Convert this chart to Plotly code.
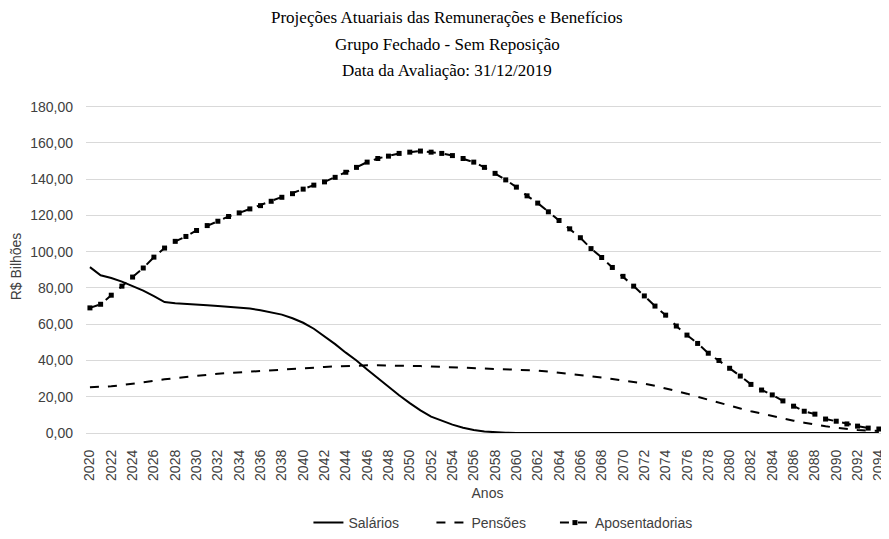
import plotly.graph_objects as go

anos = list(range(2020, 2095))

salarios = [91.5, 87.0, 85.5, 83.5, 81.0, 78.5, 75.5, 72.2, 71.5, 71.0,
            70.7, 70.4, 70.0, 69.5, 69.2, 68.7, 67.7, 66.7, 65.3, 63.3,
            60.8, 57.5, 53.5, 49.0, 44.3, 40.0, 35.0, 30.2, 25.5, 20.8,
            16.5, 12.5, 9.0, 6.6, 4.6, 2.9, 1.6, 0.8, 0.3, 0.1,
            0.05, 0.02, 0.01, 0, 0, 0, 0, 0, 0, 0,
            0, 0, 0, 0, 0, 0, 0, 0, 0, 0,
            0, 0, 0, 0, 0, 0, 0, 0, 0, 0,
            0, 0, 0, 0, 0]

pensoes = [25.2, 25.4, 25.8, 26.4, 27.3, 28.1, 28.9, 29.6, 30.3, 31.0,
           31.6, 32.2, 32.7, 33.1, 33.5, 33.8, 34.2, 34.6, 35.0, 35.4,
           35.8, 36.1, 36.4, 36.7, 37.0, 37.2, 37.3, 37.3, 37.3, 37.2,
           37.0, 36.9, 36.7, 36.5, 36.3, 36.1, 36.0, 35.8, 35.5, 35.3,
           35.0, 34.7, 34.4, 33.9, 33.3, 32.7, 32.0, 31.3, 30.6, 29.8,
           29.0, 28.1, 27.2, 26.0, 24.7, 23.3, 21.7, 20.0, 18.3, 16.7,
           15.0, 13.5, 12.0, 10.6, 9.3, 8.0, 6.8, 5.7, 4.6, 3.7,
           2.9, 2.2, 1.7, 1.3, 1.1]

aposentadorias = [69.0, 71.0, 76.0, 81.0, 86.0, 91.0, 97.0, 102.0, 105.7, 108.4,
                  111.7, 114.4, 116.8, 119.4, 121.4, 123.6, 125.4, 127.8, 130.0, 132.0,
                  134.5, 136.7, 138.5, 141.0, 143.8, 146.5, 149.4, 151.4, 152.7, 154.2,
                  154.9, 155.5, 154.9, 154.2, 153.0, 151.4, 149.4, 146.5, 143.2, 139.6,
                  135.6, 130.8, 126.8, 122.0, 117.2, 112.6, 107.7, 101.7, 96.8, 91.3,
                  86.4, 81.0, 75.6, 70.0, 65.0, 59.0, 54.0, 49.4, 44.0, 40.0,
                  35.7, 31.4, 26.8, 23.7, 21.0, 17.7, 14.8, 12.0, 10.4, 7.7,
                  6.5, 5.0, 3.8, 2.7, 2.2]

titulos = ["Projeções Atuariais das Remunerações e Benefícios",
           "Grupo Fechado - Sem Reposição",
           "Data da Avaliação: 31/12/2019"]

fig = go.Figure()

fig.add_trace(go.Scatter(
    x=anos, y=salarios, mode="lines", name="Salários",
    line=dict(color="black", width=2)
))
fig.add_trace(go.Scatter(
    x=anos, y=pensoes, mode="lines", name="Pensões",
    line=dict(color="black", width=2, dash="dash")
))
fig.add_trace(go.Scatter(
    x=anos, y=aposentadorias, mode="lines+markers", name="Aposentadorias",
    line=dict(color="black", width=2, dash="dash"),
    marker=dict(symbol="square", size=5, color="black"),
    legend="legend2"
))

# titulo em tres linhas, espaçadas como no original
for texto, yp in zip(titulos, [1.247, 1.167, 1.089]):
    fig.add_annotation(
        text=texto, xref="paper", yref="paper", x=0.4496, y=yp,
        showarrow=False, xanchor="center", yanchor="middle",
        font=dict(family="Liberation Serif", size=17, color="black")
    )

# a pagina tem margem de 8px no body, por isso a figura fica 8px menor
fig.update_layout(
    width=881, height=531,
    margin=dict(l=78, r=0, t=92, b=103),
    paper_bgcolor="white", plot_bgcolor="white",
    font=dict(family="Liberation Sans", size=14, color="#404040"),
    separators=",.",
    showlegend=True,
    legend=dict(orientation="h", x=0.277, xanchor="left", y=-0.271, yanchor="middle",
                font=dict(size=14, color="#404040"), entrywidth=78),
    legend2=dict(orientation="h", x=0.584, xanchor="left", y=-0.271, yanchor="middle",
                 font=dict(size=14, color="#404040")),
)

fig.update_xaxes(
    range=[2019.63, 2094.95], tickmode="linear", tick0=2020, dtick=2,
    tickangle=-90, showgrid=False, zeroline=False, showline=False,
    ticks="", automargin=False, ticklabelstandoff=13,
    title=dict(text="Anos", standoff=8, font=dict(size=14))
)
fig.update_yaxes(
    range=[0, 183.66], tickmode="linear", tick0=0, dtick=20, tickformat=".2f",
    showgrid=True, gridcolor="#d9d9d9", gridwidth=1,
    zeroline=True, zerolinecolor="#d9d9d9", zerolinewidth=1,
    showline=False, ticks="", ticklabelstandoff=12, automargin=False,
    title=dict(text="R$ Bilhões", standoff=5, font=dict(size=14))
)

fig.write_html("out.html")
